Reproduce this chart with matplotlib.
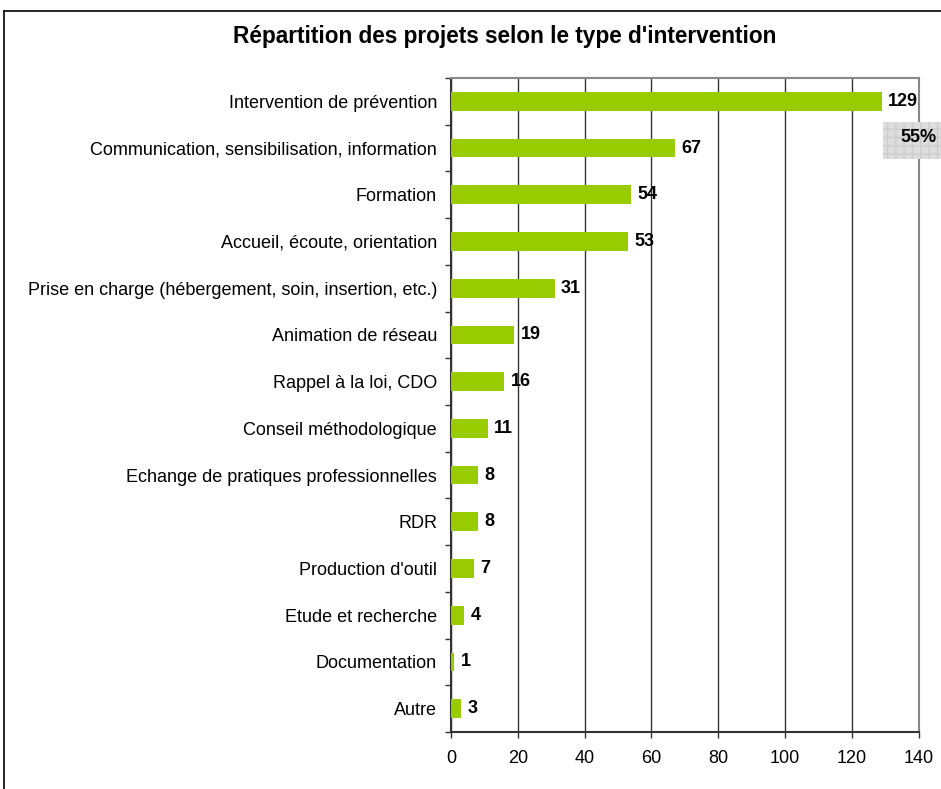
import matplotlib.pyplot as plt
from matplotlib.patches import Rectangle

plt.rcParams['font.family'] = ['Liberation Sans', 'DejaVu Sans']

categories = ["Intervention de prévention",
              "Communication, sensibilisation, information",
              "Formation",
              "Accueil, écoute, orientation",
              "Prise en charge (hébergement, soin, insertion, etc.)",
              "Animation de réseau",
              "Rappel à la loi, CDO",
              "Conseil méthodologique",
              "Echange de pratiques professionnelles",
              "RDR",
              "Production d'outil",
              "Etude et recherche",
              "Documentation",
              "Autre"]
values = [129, 67, 54, 53, 31, 19, 16, 11, 8, 8, 7, 4, 1, 3]
xticks = [0, 20, 40, 60, 80, 100, 120, 140]

fig = plt.figure(figsize=(9.41, 7.89), dpi=100)
ax = fig.add_axes([451/941, 1-732/789, (918.5-451)/941, (732-78)/789])

pos = list(range(len(categories)))
ax.barh(pos, values, height=0.4, color="#99CC00", zorder=3)
for p, v in zip(pos, values):
    ax.text(v + 1.9, p, str(v), va="center", ha="left",
            fontsize=13, fontweight="bold", zorder=4)

ax.set_xlim(0, 140)
ax.set_ylim(len(categories) - 0.5, -0.5)
ax.set_xticks(xticks)
ax.xaxis.grid(True, color="#333333", linewidth=1, zorder=0)
ax.tick_params(axis="x", direction="out", length=4, width=1,
               labelsize=13, pad=9, color="#333333")

ax.set_yticks(pos)
ax.set_yticklabels(categories, fontsize=13)
ax.set_yticks([p - 0.5 for p in pos] + [len(pos) - 0.5], minor=True)
ax.tick_params(axis="y", which="major", length=0, pad=10)
ax.tick_params(axis="y", which="minor", direction="out", length=4,
               width=1, color="#333333")

for s in ["left", "bottom"]:
    ax.spines[s].set_color("#333333")
    ax.spines[s].set_linewidth(1.5)
for s in ["top", "right"]:
    ax.spines[s].set_color("#888888")
    ax.spines[s].set_linewidth(1.5)

fig.text(505/941, 1 - 37/789, "Répartition des projets selon le type d'intervention",
         ha="center", va="center", fontsize=16.3, fontweight="bold")

# percentage box on the right
fig.patches.append(Rectangle((883/941, 1-159/789), 60/941, 37/789,
                             transform=fig.transFigure, facecolor="#DDDDDD",
                             edgecolor="#CCCCCC", hatch="++", linewidth=0,
                             zorder=5))
fig.text(937/941, 1-137/789, "55%", ha="right", va="center",
         fontsize=13, fontweight="bold", zorder=6)

# chart border
fig.add_artist(plt.Line2D([4/941, 4/941], [0, 1-11/789],
                          transform=fig.transFigure, color="black", lw=1.2))
fig.add_artist(plt.Line2D([4/941, 1], [1-11/789, 1-11/789],
                          transform=fig.transFigure, color="black", lw=1.2))

fig.savefig("out.png", dpi=100)
